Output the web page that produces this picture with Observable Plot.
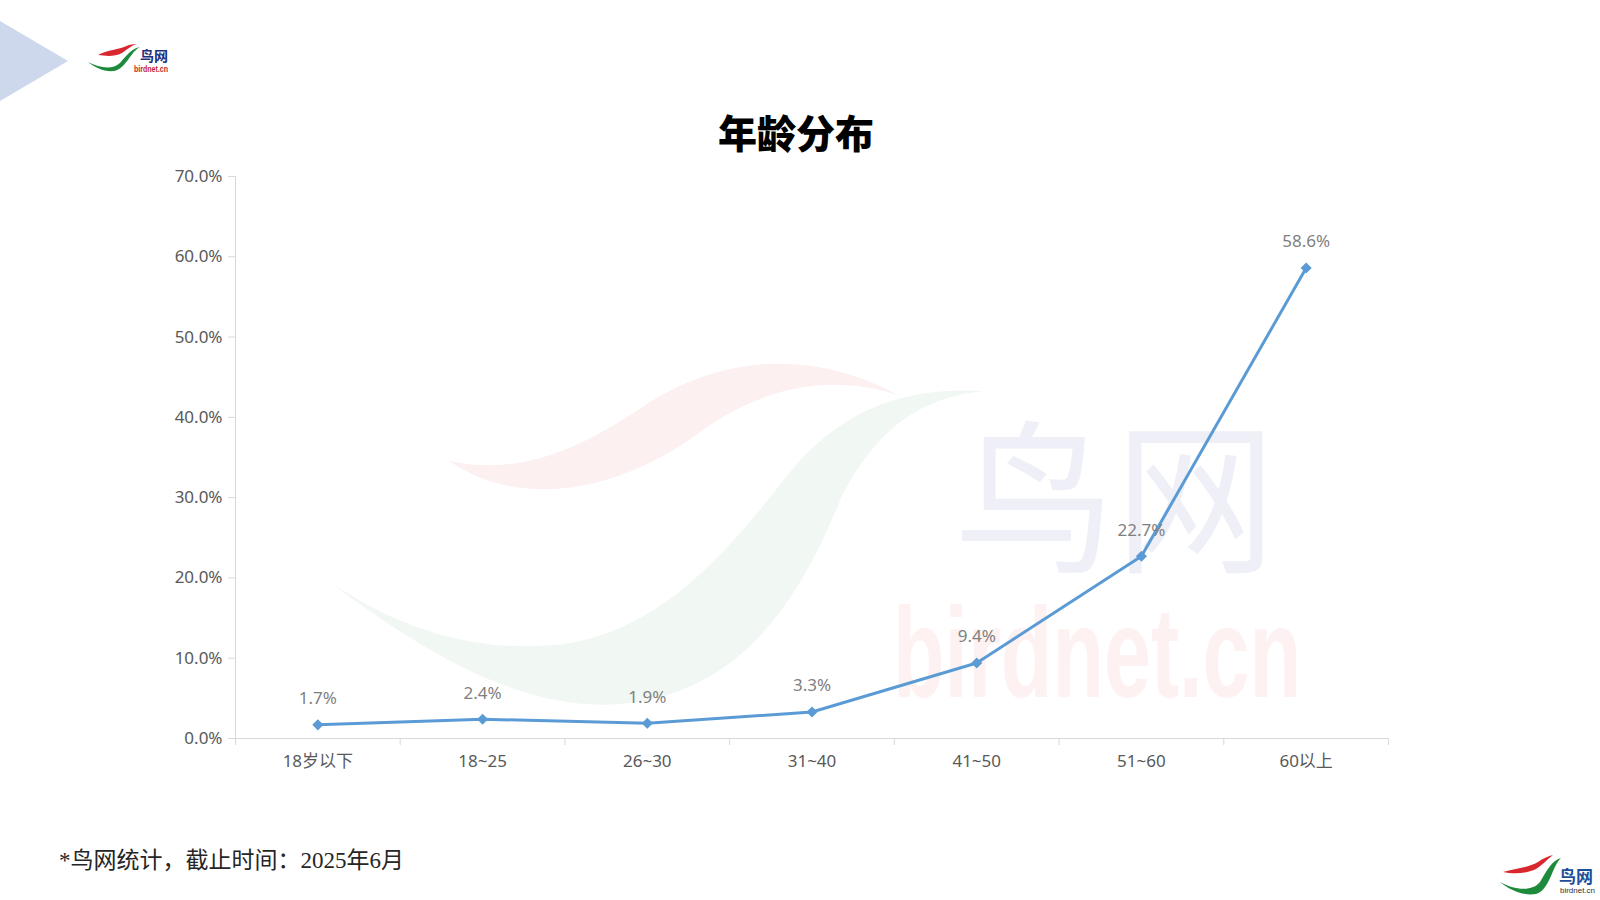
<!DOCTYPE html>
<html>
<head>
<meta charset="utf-8">
<script src="https://cdn.jsdelivr.net/npm/d3@7"></script>
<script src="https://cdn.jsdelivr.net/npm/@observablehq/plot@0.6"></script>
<style>
  html, body { margin: 0; padding: 0; background: #fff; }
  #page { position: relative; width: 1600px; height: 900px; overflow: hidden; background: #fff; }
  #bg { position: absolute; left: 0; top: 0; }
  #chart { position: absolute; left: 0; top: 0; }
  #title { position: absolute; left: 0; width: 1592px; top: 112px; text-align: center;
    font-family: "Noto Sans CJK SC", sans-serif; font-weight: 900; font-size: 39px; line-height: 1; color: #000; }
  #caption { position: absolute; left: 59px; top: 849px; font-family: "Liberation Serif", "Noto Sans CJK SC", serif;
    font-size: 23px; line-height: 1; color: #262626; }
</style>
</head>
<body>
<div id="page">
  <svg id="bg" width="1600" height="900" xmlns="http://www.w3.org/2000/svg">
    <!-- corner triangle -->
    <polygon points="0,21 68,61 0,101" fill="#cdd8ec"/>
    <!-- watermark swooshes -->
    <path d="M449,461 C520,510 620,492 700,432 C760,388 830,372 900,396 C820,352 730,352 650,402 C580,450 520,476 449,461 Z" fill="#fcf0f0"/>
    <path d="M327,580 C420,650 520,712 620,704 C740,694 800,600 840,500 C880,420 930,396 985,391 C900,386 840,412 790,472 C720,562 650,642 540,646 C450,650 380,616 327,580 Z" fill="#f1f7f2"/>
    <text x="954" y="560" font-family="Noto Sans CJK SC" font-size="165" fill="#eff0f7" textLength="322" lengthAdjust="spacingAndGlyphs">鸟网</text>
    <text x="893" y="697" font-family="Liberation Sans" font-weight="bold" font-size="128" fill="#fdf1f1" textLength="408" lengthAdjust="spacingAndGlyphs">birdnet.cn</text>
    <!-- top-left logo -->
    <path d="M98,55 C108,50 116,50 124,47 C128,45 132,44 137,44 C130,46 127,50 122,53 C114,57 106,56 98,55 Z" fill="#d8282e"/>
    <path d="M88,62 C96,68 104,72 114,71 C126,69 130,52 140,47 C132,48 126,56 120,63 C112,70 100,68 88,62 Z" fill="#1e8a3c"/>
    <text x="140" y="61" font-family="Liberation Serif, Noto Sans CJK SC" font-weight="bold" font-size="14" fill="#1c2f80">鸟网</text>
    <text x="134" y="72" font-family="Liberation Sans Narrow, Liberation Sans" font-weight="bold" font-size="8.5" fill="#c0272d" textLength="34" lengthAdjust="spacingAndGlyphs">birdnet.cn</text>
    <!-- bottom-right logo -->
    <path d="M1503,872 C1515,868 1528,868 1538,862 C1544,858 1548,856 1553,855 C1546,860 1542,866 1534,870 C1524,874 1512,874 1503,872 Z" fill="#d8282e"/>
    <path d="M1500,882 C1510,890 1522,896 1536,894 C1550,890 1552,866 1561,858 C1552,860 1546,872 1540,882 C1532,892 1514,890 1500,882 Z" fill="#1e8a3c"/>
    <text x="1559" y="883" font-family="Noto Sans CJK SC" font-weight="bold" font-size="17" fill="#1d4e9a">鸟网</text>
    <text x="1560" y="893" font-family="Liberation Sans" font-size="7" fill="#333" textLength="35" lengthAdjust="spacingAndGlyphs">birdnet.cn</text>
  </svg>
  <div id="chart"></div>
  <div id="title">年龄分布</div>
  <div id="caption">*鸟网统计，截止时间：2025年6月</div>
</div>
<script>
// ---- data ----
const categories = ["18岁以下", "18~25", "26~30", "31~40", "41~50", "51~60", "60以上"];
const shares = [1.7, 2.4, 1.9, 3.3, 9.4, 22.7, 58.6];   // percent
const yTicks = [0, 10, 20, 30, 40, 50, 60, 70];

const data = categories.map((c, i) => ({ i, category: c, value: shares[i] }));
const mids = categories.map((c, i) => i + 0.5);
const bounds = d3.range(categories.length + 1);
const pct = d => d.toFixed(1) + "%";

const font = `"Noto Sans", "Noto Sans CJK SC", sans-serif`;

const chart = Plot.plot({
  width: 1600,
  height: 900,
  marginLeft: 235,
  marginRight: 212,
  marginTop: 176,
  marginBottom: 162,
  style: { background: "transparent", fontFamily: font },
  x: { type: "linear", domain: [0, categories.length], label: null },
  y: { domain: [0, 70], label: null },
  marks: [
    Plot.ruleY([0], { stroke: "#d9d9d9", strokeWidth: 1 }),
    Plot.ruleX([0], { stroke: "#d9d9d9", strokeWidth: 1 }),
    Plot.axisX({ ticks: bounds, tickSize: 7, tickFormat: () => "", stroke: "#d9d9d9", strokeOpacity: 1, label: null }),
    Plot.axisX({ ticks: mids, tickSize: 0, tickPadding: 16, tickFormat: d => categories[Math.floor(d)],
      fill: "#595959", fontSize: 17, fontFamily: font, style: "letter-spacing:1.5px", label: null }),
    Plot.axisY({ ticks: yTicks, tickSize: 7, tickPadding: 6, tickFormat: pct, label: null,
      stroke: "#d9d9d9", strokeOpacity: 1, fill: "#595959", fontSize: 17, fontFamily: font }),
    Plot.line(data, { x: d => d.i + 0.5, y: "value", stroke: "#5b9bd5", strokeWidth: 3 }),
    Plot.dot(data, { x: d => d.i + 0.5, y: "value", symbol: "diamond2", r: 5, fill: "#5b9bd5", stroke: "none" }),
    Plot.text(data, { x: d => d.i + 0.5, y: "value", text: d => pct(d.value), dy: -26,
      fill: "#7f7f7f", fontSize: 17, fontFamily: font })
  ]
});
document.getElementById("chart").appendChild(chart);
</script>
</body>
</html>
